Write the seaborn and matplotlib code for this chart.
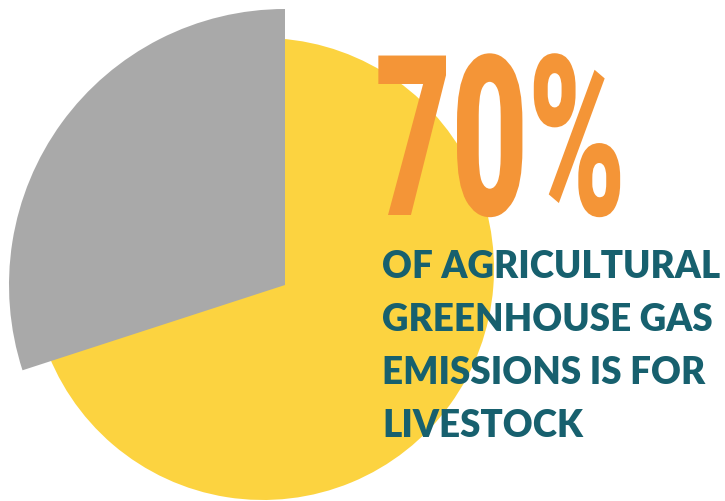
import matplotlib
matplotlib.use("Agg")
import matplotlib.pyplot as plt
from matplotlib.patheffects import AbstractPathEffect
from matplotlib.transforms import Affine2D
import seaborn as sns

# Share of agricultural greenhouse gas emissions
categories = ["Livestock", "Other agriculture"]
shares = [70, 30]
caption_lines = [
    "OF AGRICULTURAL",
    "GREENHOUSE GAS",
    "EMISSIONS IS FOR",
    "LIVESTOCK",
]

YELLOW = "#FCD340"
GREY = "#A9A9A9"
ORANGE = "#F49537"
TEAL = "#17606E"

sns.set_theme(style="white")
plt.rcParams["font.family"] = ["Lato", "DejaVu Sans"]

W, H = 725, 502
fig = plt.figure(figsize=(W / 100, H / 100), dpi=100)
ax = fig.add_axes([0, 0, 1, 1])


class Stretch(AbstractPathEffect):
    """Scale glyph outlines vertically about a baseline anchor (display px)."""

    def __init__(self, sy, anchor):
        super().__init__()
        self.sy = sy
        self.x0, self.y0 = anchor

    def draw_path(self, renderer, gc, tpath, affine, rgbFace=None):
        tall = (Affine2D().translate(-self.x0, -self.y0)
                .scale(1.0, self.sy).translate(self.x0, self.y0))
        renderer.draw_path(gc, tpath, affine + tall, rgbFace)


wedge_style = dict(linewidth=0, antialiased=True)

# Main disc: the livestock slice
ax.pie(shares, colors=[YELLOW, "none"], startangle=90, counterclock=False,
       center=(263, H - 270), radius=231, wedgeprops=wedge_style)
# Pulled-out slice for the remainder, drawn larger on top
ax.pie(shares, colors=["none", GREY], startangle=90, counterclock=False,
       center=(285, H - 286), radius=276, wedgeprops=wedge_style)

ax.set_xlim(0, W)
ax.set_ylim(0, H)
ax.set_aspect("equal")
ax.axis("off")

# Headline figure: a tall, condensed numeral
hx, hy = 375, H - 216
anchor = ax.transData.transform((hx, hy))
ax.text(hx, hy, f"{shares[0]}%", color=ORANGE, fontsize=95,
        fontfamily=["Roboto", "DejaVu Sans"], fontweight="black",
        ha="left", va="baseline", path_effects=[Stretch(1.70, anchor)])

# Caption
for i, line in enumerate(caption_lines):
    ax.text(382, H - 278 - i * 53, line, color=TEAL, fontsize=26.5,
            fontweight="heavy", ha="left", va="baseline")

fig.savefig("out.png", dpi=100)
